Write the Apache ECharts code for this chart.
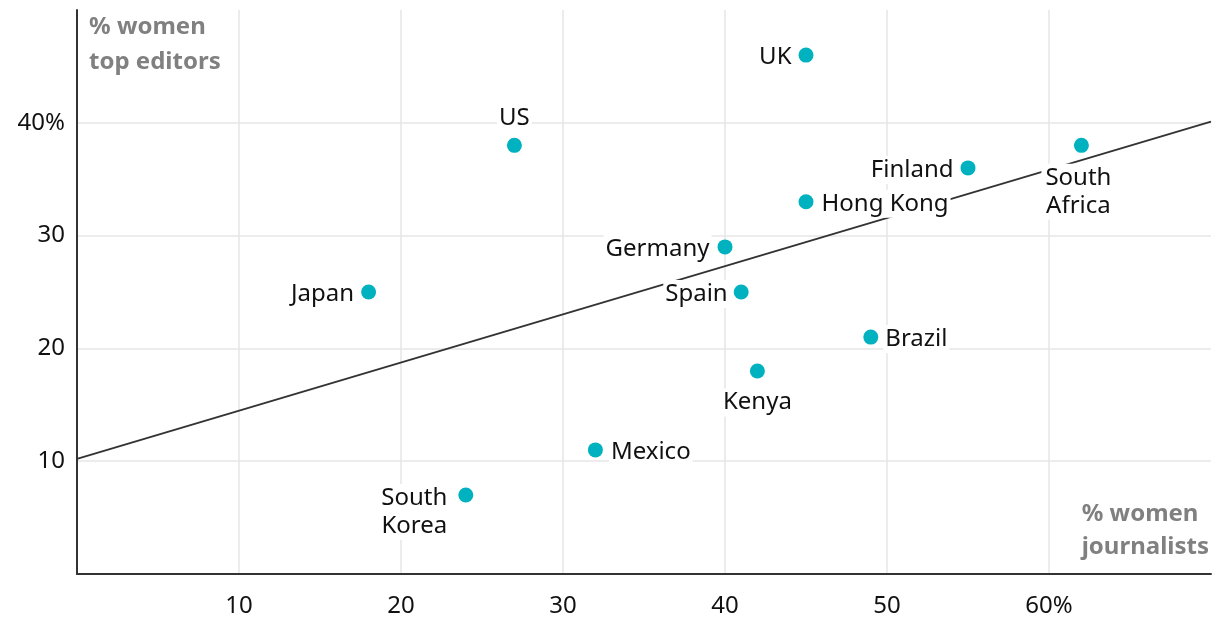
<!DOCTYPE html>
<html><head><meta charset="utf-8">
<script src="https://cdn.jsdelivr.net/npm/echarts@6/dist/echarts.min.js"></script>
<style>html,body{margin:0;padding:0;background:#fff}#c{width:1220px;height:630px}</style>
</head><body><div id="c"></div>
<script>
const countries = ['UK','US','Finland','South Africa','Hong Kong','Germany','Spain','Japan','Brazil','Kenya','Mexico','South Korea'];
const womenJournalists = [45,27,55,62,45,40,41,18,49,42,32,24];
const womenTopEditors = [46,38,36,38,33,29,25,25,21,18,11,7];
const trendX = [0,70];
const trendY = [10.2,40.1];
const xTickValues = [10,20,30,40,50,60];
const xTickLabels = ['10','20','30','40','50','60%'];
const yTickValues = [10,20,30,40];
const yTickLabels = ['10','20','30','40%'];
const yTitle = '% women\ntop editors';
const xTitle = '% women\njournalists';

const FONT = '"Noto Sans", "DejaVu Sans", sans-serif';
const FS = 24;
const placement = {
  'UK': {position:'left', distance:5, offset:[0,2]},
  'US': {position:'top', distance:6, offset:[0,0]},
  'Finland': {position:'left', distance:5, offset:[0,2]},
  'South Africa': {position:'bottom', distance:11, lines:['South','Africa'], offset:[-3,0]},
  'Hong Kong': {position:'right', distance:6, offset:[0,2]},
  'Germany': {position:'left', distance:6, offset:[0,2]},
  'Spain': {position:'left', distance:4, offset:[0,2]},
  'Japan': {position:'left', distance:5, offset:[0,2]},
  'Brazil': {position:'right', distance:5, offset:[0,2]},
  'Kenya': {position:'bottom', distance:10, offset:[0,0]},
  'Mexico': {position:'right', distance:6, offset:[0,2]},
  'South Korea': {position:'left', distance:5, lines:['South','Korea'], offset:[-2,17]}
};

const scatterData = countries.map((c,i) => {
  const p = placement[c];
  const label = {position:p.position, distance:p.distance, offset:p.offset};
  return {name:c, value:[womenJournalists[i], womenTopEditors[i]], label};
});

const chart = echarts.init(document.getElementById('c'));
chart.setOption({
  animation:false,
  backgroundColor:'#fff',
  grid:{left:77, right:9, top:10, bottom:56},
  xAxis:{type:'value', min:0, max:70, interval:10,
    axisLine:{show:true, onZero:false, lineStyle:{color:'#333', width:2}},
    axisTick:{show:false},
    splitLine:{show:true, showMinLine:false, showMaxLine:false, lineStyle:{color:'#e6e6e6', width:1.5}},
    axisLabel:{margin:20, fontSize:FS, color:'#111', fontFamily:FONT,
      formatter:v => { const k = xTickValues.indexOf(v); return k<0 ? '' : xTickLabels[k]; }}
  },
  yAxis:{type:'value', min:0, max:50, interval:10,
    axisLine:{show:true, onZero:false, lineStyle:{color:'#333', width:2}},
    axisTick:{show:false},
    splitLine:{show:true, showMinLine:false, showMaxLine:false, lineStyle:{color:'#e6e6e6', width:1.5}},
    axisLabel:{margin:12, fontSize:FS, color:'#111', fontFamily:FONT,
      formatter:v => { const k = yTickValues.indexOf(v); return k<0 ? '' : yTickLabels[k]; }}
  },
  graphic:[
    {type:'text', left:89, top:10, z:10, style:{text:yTitle, font:'bold 24px '+FONT, fill:'#808080', lineHeight:35}},
    {type:'text', right:11, top:498, z:10, style:{text:xTitle, font:'bold 24px '+FONT, fill:'#808080', lineHeight:33, align:'right'}}
  ],
  series:[
    {type:'line', z:1, silent:true, showSymbol:false,
      data:trendX.map((x,i)=>[x,trendY[i]]),
      lineStyle:{color:'#333', width:1.8}},
    {type:'scatter', z:3, symbolSize:15,
      itemStyle:{color:'#00B2BF', opacity:1},
      data:scatterData,
      label:{show:true, fontSize:FS, color:'#111', fontFamily:FONT, lineHeight:28,
        backgroundColor:'#fff', padding:[0,2],
        rich:{c:{width:70, align:'center', fontSize:FS, color:'#111', fontFamily:FONT, lineHeight:28}},
        formatter:p => {
          const pl = placement[p.name];
          return pl.lines ? pl.lines.map(s => '{c|' + s + '}').join('\n') : p.name;
        }}
    }
  ]
});
</script></body></html>
